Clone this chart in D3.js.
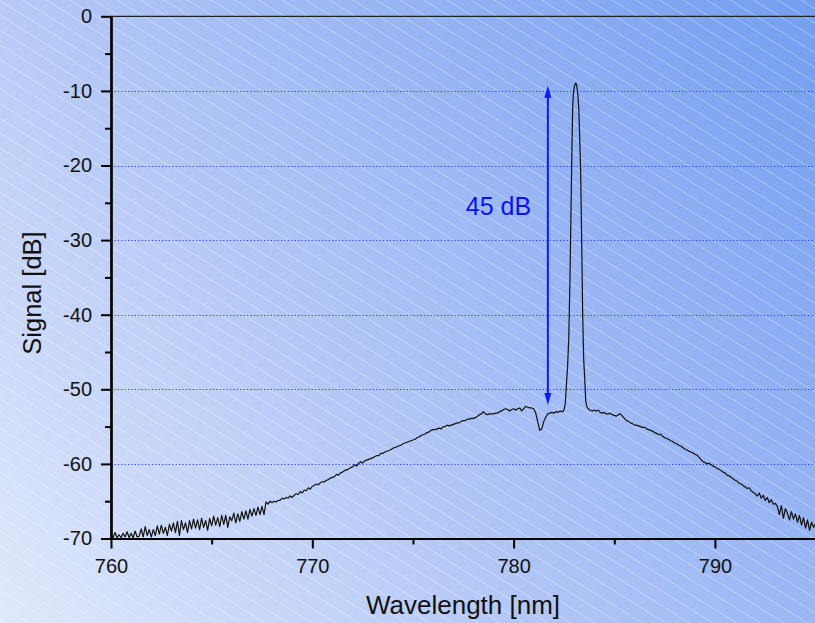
<!DOCTYPE html>
<html><head><meta charset="utf-8">
<script src="https://cdn.jsdelivr.net/npm/d3@7"></script>
<style>html,body{margin:0;padding:0;overflow:hidden;background:#fff;} svg{display:block;}</style>
</head><body><svg id="c" width="815" height="623"></svg>
<script>
// ---- data ----
const wlStart = 760, wlStep = 0.1;
const signal = [
-69.5,-69.9,-69.2,-69.9,-69.5,-69.9,-69.3,-69.8,-69.1,-69.9,
-69.3,-69.9,-69.0,-69.8,-69.7,-68.7,-69.8,-68.4,-69.6,-68.8,
-69.8,-68.8,-69.6,-68.3,-69.4,-68.2,-69.3,-68.5,-69.6,-68.1,
-69.0,-67.9,-69.2,-67.7,-69.6,-67.6,-68.8,-67.9,-69.2,-67.6,
-68.7,-67.4,-68.6,-67.5,-68.8,-67.3,-68.5,-67.6,-68.9,-67.3,
-68.3,-67.0,-68.2,-67.2,-68.4,-66.9,-68.1,-66.9,-68.5,-67.1,
-67.6,-66.6,-67.9,-66.7,-67.7,-66.4,-67.4,-66.3,-67.4,-66.1,
-67.0,-66.0,-66.9,-65.8,-66.8,-65.7,-66.8,-65.1,-65.4,-65.0,
-65.2,-65.0,-65.1,-64.9,-64.9,-64.6,-64.7,-64.5,-64.6,-64.3,
-64.5,-64.2,-64.0,-64.1,-63.7,-63.9,-63.5,-63.6,-63.2,-63.4,
-63.0,-62.9,-62.7,-62.8,-62.5,-62.4,-62.4,-62.2,-62.1,-61.9,
-61.8,-61.7,-61.4,-61.5,-61.2,-61.1,-60.9,-60.8,-60.7,-60.5,
-60.4,-60.1,-60.3,-59.9,-59.7,-59.9,-59.6,-59.5,-59.4,-59.3,
-59.2,-59.0,-58.9,-58.9,-58.6,-58.6,-58.4,-58.3,-58.2,-58.1,
-57.9,-57.8,-57.7,-57.6,-57.5,-57.3,-57.2,-57.1,-57.0,-56.9,
-56.8,-56.7,-56.5,-56.4,-56.2,-56.1,-56.0,-55.8,-55.7,-55.5,
-55.4,-55.4,-55.3,-55.2,-55.3,-55.0,-55.0,-54.8,-54.9,-54.8,
-54.7,-54.6,-54.5,-54.5,-54.3,-54.2,-54.2,-54.0,-54.0,-53.9,
-53.9,-53.8,-53.6,-53.4,-53.3,-53.0,-53.3,-53.4,-53.3,-53.3,
-53.3,-53.2,-53.2,-53.0,-52.9,-52.7,-52.6,-52.7,-52.9,-52.7,
-52.6,-52.8,-52.6,-52.5,-52.9,-52.6,-52.3,-52.4,-52.5,-52.5,
-52.6,-53.2,-54.4,-55.5,-55.3,-54.3,-53.7,-53.3,-53.2,-53.1,
-53.2,-53.0,-53.1,-52.9,-53.0,-52.6,-50.0,-20.0,-9.0,-20.0,
-50.0,-52.5,-52.5,-52.7,-52.6,-52.7,-52.6,-52.8,-52.8,-52.9,
-52.8,-52.9,-52.8,-53.1,-53.2,-53.1,-53.3,-53.3,-53.2,-53.4,
-53.5,-53.6,-53.4,-53.3,-53.6,-53.9,-54.2,-54.3,-54.5,-54.6,
-54.8,-54.8,-54.9,-55.0,-55.1,-55.1,-55.3,-55.4,-55.5,-55.6,
-55.8,-55.9,-56.1,-56.0,-56.3,-56.5,-56.6,-56.7,-56.9,-57.0,
-57.2,-57.3,-57.5,-57.6,-57.8,-58.0,-58.1,-58.3,-58.4,-58.5,
-58.7,-58.8,-59.1,-59.4,-59.7,-59.8,-60.0,-59.9,-60.1,-60.3,
-60.4,-60.6,-60.7,-60.9,-61.1,-61.2,-61.5,-61.6,-61.8,-62.0,
-62.2,-62.3,-62.6,-62.7,-62.9,-63.1,-63.3,-63.2,-63.6,-63.8,
-64.0,-64.3,-63.9,-64.6,-64.2,-64.9,-64.5,-65.2,-64.8,-65.4,
-65.3,-65.7,-66.8,-65.6,-67.3,-66.0,-66.6,-67.5,-66.4,-67.4,
-66.7,-67.8,-66.9,-68.2,-67.2,-68.6,-67.5,-68.9,-67.8,-68.5,
-68.0
];
// finer sampling across the narrow laser line (replaces coarse points in this window)
const peakWavelength = [782.45,782.52,782.57,782.62,782.68,782.74,782.80,782.85,782.89,782.93,782.97,783.02,783.07,783.10,783.14,783.19,783.24,783.29,783.33,783.38,783.43,783.48,783.53,783.58,783.63,783.70];
const peakSignal     = [-53.0, -52.6, -51.8, -49.5, -47.0, -43.0, -35.0, -26.0, -19.0, -12.5, -10.3, -9.4,  -9.0,  -9.0,  -9.3,  -10.5, -12.5, -17.0, -21.0, -30.0, -40.0, -46.0, -48.5, -51.5, -52.3, -52.6];

const xDomain = [760, 795];
const yDomain = [0, -70];
const xMajorTicks = [760, 770, 780, 790];
const xMinorTicks = [765, 775, 785, 795];
const yMajorTicks = [0, -10, -20, -30, -40, -50, -60, -70];
const yMinorTicks = [-5, -15, -25, -35, -45, -55, -65];
const gridValues = [-10, -20, -30, -40, -50, -60];
const arrowWavelength = 781.7, arrowTop = -9.3, arrowBottom = -52.1;
const annotationText = "45 dB", annotationWavelength = 779.25, annotationSignal = -26.6;
const xTitle = "Wavelength [nm]", yTitle = "Signal [dB]";

// ---- build series ----
const peakLo = peakWavelength[0], peakHi = peakWavelength[peakWavelength.length - 1];
let series = signal.map((v, i) => ({ wl: +(wlStart + i * wlStep).toFixed(2), v }))
  .filter(d => d.wl < peakLo - 1e-6 || d.wl > peakHi + 1e-6);
peakWavelength.forEach((w, i) => series.push({ wl: w, v: peakSignal[i] }));
series.sort((a, b) => a.wl - b.wl);

// ---- drawing ----
const W = 815, H = 623;
const L = 111, R = 815.6, T = 16.3, B = 538.5;
const svg = d3.select("#c");
const x = d3.scaleLinear(xDomain, [L, R]);
const y = d3.scaleLinear(yDomain, [T, B]);
const font = "'Liberation Sans', Arial, sans-serif";

const defs = svg.append("defs");
const grad = defs.append("linearGradient").attr("id", "bg")
  .attr("gradientUnits", "userSpaceOnUse")
  .attr("x1", 0).attr("y1", H).attr("x2", W).attr("y2", 0);
grad.append("stop").attr("offset", 0).attr("stop-color", "#e0e8fb");
grad.append("stop").attr("offset", 0.5).attr("stop-color", "#a9c0f5");
grad.append("stop").attr("offset", 1).attr("stop-color", "#749ef0");
const pat = defs.append("pattern").attr("id", "hatch")
  .attr("patternUnits", "userSpaceOnUse").attr("width", 12.5).attr("height", 12.5)
  .attr("patternTransform", "rotate(32)");
pat.append("line").attr("x1", 0).attr("y1", 0.5).attr("x2", 12.5).attr("y2", 0.5)
  .attr("stroke", "#ffffff").attr("stroke-opacity", 0.28).attr("stroke-width", 1);
defs.append("clipPath").attr("id", "plotclip").append("rect")
  .attr("x", L).attr("y", T - 2).attr("width", R - L).attr("height", B - T + 2);

svg.append("rect").attr("width", W).attr("height", H).attr("fill", "url(#bg)");
svg.append("rect").attr("width", W).attr("height", H).attr("fill", "url(#hatch)");

// grid
svg.append("g").selectAll("line").data(gridValues).join("line")
  .attr("x1", L).attr("x2", W).attr("y1", d => Math.round(y(d)) + 0.5).attr("y2", d => Math.round(y(d)) + 0.5)
  .attr("stroke", "#2b3cf0").attr("stroke-width", 1.2).attr("stroke-dasharray", "1.2,2.2");

// top frame line
svg.append("line").attr("x1", L).attr("x2", W).attr("y1", T).attr("y2", T)
  .attr("stroke", "#222").attr("stroke-width", 1.2);

// data line
svg.append("path").datum(series)
  .attr("clip-path", "url(#plotclip)")
  .attr("d", d3.line().x(d => x(d.wl)).y(d => y(d.v)))
  .attr("fill", "none").attr("stroke", "#111").attr("stroke-width", 1.2).attr("stroke-linejoin", "round");

// axes
function styleAxis(g, w) {
  g.select(".domain").attr("stroke", "#000").attr("stroke-width", 2.2);
  g.selectAll(".tick line").attr("stroke", "#000").attr("stroke-width", w);
  g.selectAll("text").attr("font-family", font).attr("font-size", 20).attr("fill", "#111");
}
const gyMinor = svg.append("g").attr("transform", `translate(${L},0)`)
  .call(d3.axisLeft(y).tickValues(yMinorTicks).tickSize(6).tickSizeOuter(0).tickFormat(""));
styleAxis(gyMinor, 2);
const gy = svg.append("g").attr("transform", `translate(${L},0)`)
  .call(d3.axisLeft(y).tickValues(yMajorTicks).tickSize(10).tickSizeOuter(0).tickPadding(9).tickFormat(d => String(d)));
styleAxis(gy, 2);
const gxMinor = svg.append("g").attr("transform", `translate(0,${B})`)
  .call(d3.axisBottom(x).tickValues(xMinorTicks).tickSize(6).tickSizeOuter(0).tickFormat(""));
styleAxis(gxMinor, 2);
const gx = svg.append("g").attr("transform", `translate(0,${B})`)
  .call(d3.axisBottom(x).tickValues(xMajorTicks).tickSize(10).tickSizeOuter(0).tickPadding(10).tickFormat(d => String(d)));
styleAxis(gx, 2);

// titles
svg.append("text").attr("x", (L + W) / 2).attr("y", 614).attr("text-anchor", "middle")
  .attr("font-family", font).attr("font-size", 26).attr("fill", "#111").text(xTitle);
svg.append("text").attr("transform", "translate(41,293) rotate(-90)").attr("text-anchor", "middle")
  .attr("font-family", font).attr("font-size", 25.5).attr("fill", "#111").text(yTitle);

// annotation arrow
const ax = x(arrowWavelength), ay1 = y(arrowTop), ay2 = y(arrowBottom);
const headL = 12, headW = 3.5;
svg.append("line").attr("x1", ax).attr("x2", ax).attr("y1", ay1 + headL - 1).attr("y2", ay2 - headL + 1)
  .attr("stroke", "#0a1bf5").attr("stroke-width", 2);
svg.append("path").attr("d", `M${ax},${ay1}L${ax - headW},${ay1 + headL}L${ax + headW},${ay1 + headL}Z`).attr("fill", "#0a1bf5");
svg.append("path").attr("d", `M${ax},${ay2}L${ax - headW},${ay2 - headL}L${ax + headW},${ay2 - headL}Z`).attr("fill", "#0a1bf5");
svg.append("text").attr("x", x(annotationWavelength)).attr("y", y(annotationSignal)).attr("text-anchor", "middle")
  .attr("font-family", font).attr("font-size", 25).attr("fill", "#0a12ee").text(annotationText);
</script></body></html>
